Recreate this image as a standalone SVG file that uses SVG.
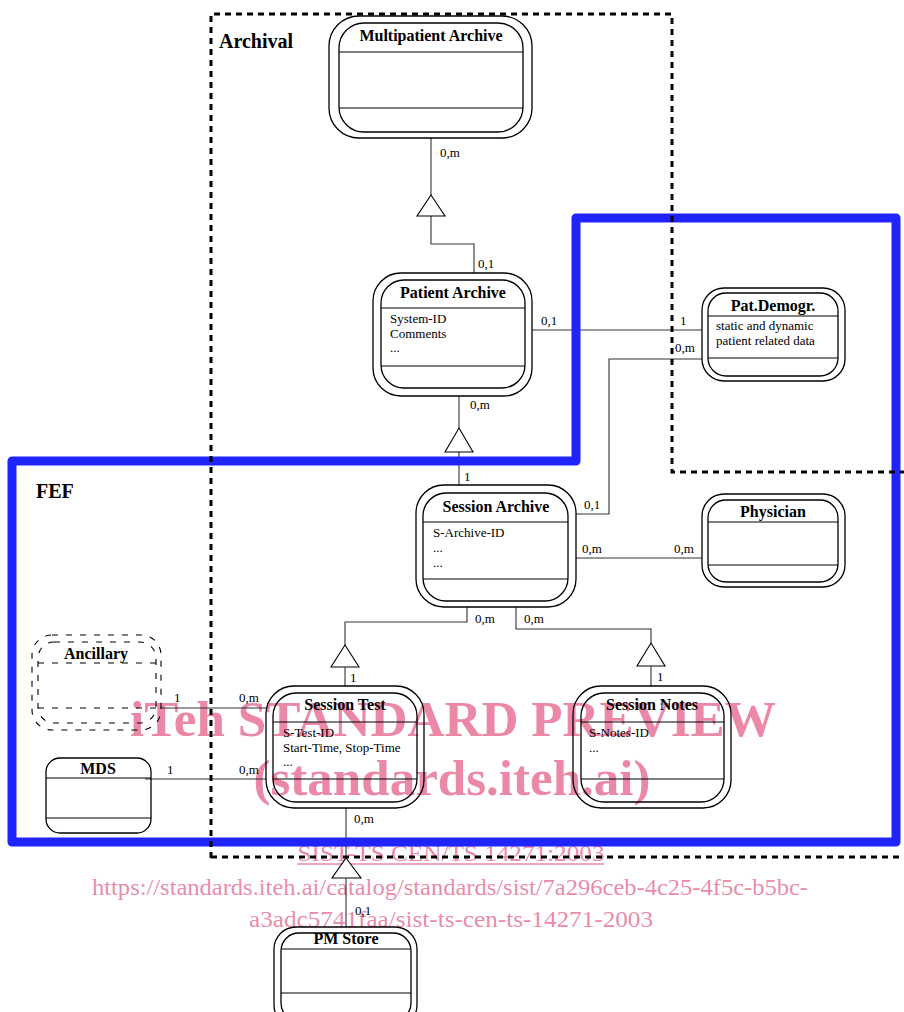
<svg xmlns="http://www.w3.org/2000/svg" width="904" height="1012" viewBox="0 0 904 1012">
<style>
.wm{font-family:"Liberation Serif","Times New Roman",serif;fill:#e2567f;fill-opacity:0.7}
.wmb{font-weight:bold}
.o{fill:none;stroke:#000;stroke-width:1.3}
.i{fill:none;stroke:#000;stroke-width:1.3}
.sep{stroke:#000;stroke-width:1.2}
.d{fill:none;stroke:#000;stroke-width:1.1;stroke-dasharray:6 8}
.t{font-family:"Liberation Serif","Times New Roman",serif;font-weight:bold;font-size:16px;text-anchor:middle;fill:#000}
.a{font-family:"Liberation Serif","Times New Roman",serif;font-size:13px;fill:#000}
.l{font-family:"Liberation Serif","Times New Roman",serif;font-size:13px;fill:#000}
.c{fill:none;stroke:#333;stroke-width:1.1}
.tri{fill:#fff;stroke:#000;stroke-width:1.1}
.big{font-family:"Liberation Serif","Times New Roman",serif;font-weight:bold;font-size:20px;fill:#000}
</style>
<rect width="904" height="1012" fill="#fff"/>

<g id="watermark">
<text class="wm wmb" x="453" y="736" font-size="50" text-anchor="middle" textLength="646" lengthAdjust="spacingAndGlyphs">iTeh STANDARD PREVIEW</text>
<text class="wm wmb" x="452" y="795" font-size="50" text-anchor="middle" textLength="397" lengthAdjust="spacingAndGlyphs">(standards.iteh.ai)</text>
<text class="wm" x="451" y="861" font-size="24" text-anchor="middle" textLength="307" lengthAdjust="spacingAndGlyphs">SIST-TS CEN/TS 14271:2003</text>
<line x1="297" y1="864" x2="604" y2="864" stroke="#e2567f" stroke-opacity="0.7" stroke-width="1.5"/>
<text class="wm" x="450" y="895" font-size="24" text-anchor="middle" textLength="716" lengthAdjust="spacingAndGlyphs">https://standards.iteh.ai/catalog/standards/sist/7a296ceb-4c25-4f5c-b5bc-</text>
<text class="wm" x="451" y="927" font-size="24" text-anchor="middle" textLength="404" lengthAdjust="spacingAndGlyphs">a3adc5741faa/sist-ts-cen-ts-14271-2003</text>
</g>

<g id="connectors">
<polyline class="c" points="431,138 431,195"/>
<polyline class="c" points="431,216 431,244 474,244 474,273"/>
<polygon class="tri" points="431,195 445,216 417,216"/>
<line class="c" x1="532" y1="330" x2="702" y2="330"/>
<polyline class="c" points="702,359 609,359 609,514 576,514"/>
<line class="c" x1="459" y1="396" x2="459" y2="428"/>
<line class="c" x1="459" y1="452" x2="459" y2="485"/>
<polygon class="tri" points="459,428 473,452 445,452"/>
<line class="c" x1="576" y1="558" x2="702" y2="558"/>
<polyline class="c" points="467,607 467,622 345,622 345,645"/>
<polygon class="tri" points="345,645 359,667 331,667"/>
<line class="c" x1="345" y1="667" x2="345" y2="686"/>
<polyline class="c" points="516,607 516,629 651,629 651,643"/>
<polygon class="tri" points="651,643 665,666 637,666"/>
<line class="c" x1="651" y1="666" x2="651" y2="686"/>
<line class="c" x1="160" y1="708" x2="266" y2="708"/>
<line class="c" x1="145" y1="779" x2="266" y2="779"/>
<line class="c" x1="346" y1="808" x2="346" y2="858"/>
<polygon class="tri" points="346,858 361,878 332,878"/>
<line class="c" x1="346" y1="878" x2="346" y2="927"/>
<text class="l" x="440" y="157">0,m</text>
<text class="l" x="478" y="268">0,1</text>
<text class="l" x="541" y="325">0,1</text>
<text class="l" x="680" y="325">1</text>
<text class="l" x="675" y="352">0,m</text>
<text class="l" x="470" y="409">0,m</text>
<text class="l" x="464" y="481">1</text>
<text class="l" x="584" y="509">0,1</text>
<text class="l" x="582" y="553">0,m</text>
<text class="l" x="674" y="553">0,m</text>
<text class="l" x="475" y="623">0,m</text>
<text class="l" x="524" y="623">0,m</text>
<text class="l" x="350" y="682">1</text>
<text class="l" x="657" y="681">1</text>
<text class="l" x="174" y="702">1</text>
<text class="l" x="239" y="702">0,m</text>
<text class="l" x="167" y="774">1</text>
<text class="l" x="239" y="774">0,m</text>
<text class="l" x="354" y="823">0,m</text>
<text class="l" x="355" y="915">0,1</text>
</g>

<g id="multipatient-archive">
<rect class="o" x="329" y="16" width="203" height="122" rx="30"/>
<rect class="i" x="339" y="23" width="184" height="109" rx="25"/>
<line class="sep" x1="339" y1="52" x2="523" y2="52"/>
<line class="sep" x1="339" y1="108" x2="523" y2="108"/>
<text class="t" x="431" y="41">Multipatient Archive</text>
</g>

<g id="patient-archive">
<rect class="o" x="373" y="273" width="159" height="123" rx="28"/>
<rect class="i" x="381" y="280" width="144" height="108" rx="23"/>
<line class="sep" x1="381" y1="308" x2="525" y2="308"/>
<line class="sep" x1="381" y1="366" x2="525" y2="366"/>
<text class="t" x="453" y="298">Patient Archive</text>
<text class="a" x="390" y="323">System-ID</text>
<text class="a" x="390" y="338">Comments</text>
<text class="a" x="390" y="352">...</text>
</g>

<g id="pat-demogr">
<rect class="o" x="702" y="288" width="143" height="93" rx="22"/>
<rect class="i" x="708" y="293" width="130" height="83" rx="18"/>
<line class="sep" x1="708" y1="316" x2="838" y2="316"/>
<line class="sep" x1="708" y1="358" x2="838" y2="358"/>
<text class="t" x="773" y="311">Pat.Demogr.</text>
<text class="a" x="716" y="330">static and dynamic</text>
<text class="a" x="716" y="345">patient related data</text>
</g>

<g id="session-archive">
<rect class="o" x="416" y="485" width="160" height="122" rx="28"/>
<rect class="i" x="423" y="493" width="145" height="108" rx="23"/>
<line class="sep" x1="423" y1="522" x2="568" y2="522"/>
<line class="sep" x1="423" y1="579" x2="568" y2="579"/>
<text class="t" x="496" y="512">Session Archive</text>
<text class="a" x="433" y="537">S-Archive-ID</text>
<text class="a" x="433" y="552">...</text>
<text class="a" x="433" y="567">...</text>
</g>

<g id="physician">
<rect class="o" x="702" y="494" width="143" height="93" rx="22"/>
<rect class="i" x="708" y="500" width="130" height="82" rx="18"/>
<line class="sep" x1="708" y1="522" x2="838" y2="522"/>
<line class="sep" x1="708" y1="565" x2="838" y2="565"/>
<text class="t" x="773" y="517">Physician</text>
</g>

<g id="session-test">
<rect class="o" x="266" y="686" width="158" height="122" rx="28"/>
<rect class="i" x="273" y="693" width="144" height="109" rx="23"/>
<line class="sep" x1="273" y1="722" x2="417" y2="722"/>
<line class="sep" x1="273" y1="779" x2="417" y2="779"/>
<text class="t" x="345" y="710">Session Test</text>
<text class="a" x="283" y="737">S-Test-ID</text>
<text class="a" x="283" y="752">Start-Time, Stop-Time</text>
<text class="a" x="283" y="766">...</text>
</g>

<g id="session-notes">
<rect class="o" x="573" y="686" width="158" height="122" rx="28"/>
<rect class="i" x="581" y="693" width="143" height="109" rx="23"/>
<line class="sep" x1="581" y1="722" x2="724" y2="722"/>
<line class="sep" x1="581" y1="779" x2="724" y2="779"/>
<text class="t" x="652" y="710">Session Notes</text>
<text class="a" x="589" y="737">S-Notes-ID</text>
<text class="a" x="589" y="752">...</text>
</g>

<g id="ancillary">
<rect class="d" x="32" y="635" width="129" height="95" rx="20"/>
<rect class="d" x="38" y="642" width="118" height="81" rx="16"/>
<line class="d" x1="38" y1="663" x2="156" y2="663"/>
<line class="d" x1="38" y1="708" x2="156" y2="708"/>
<text class="t" x="96" y="659">Ancillary</text>
</g>

<g id="mds">
<rect class="o" x="46" y="758" width="105" height="75" rx="14"/>
<line class="sep" x1="46" y1="778" x2="151" y2="778"/>
<line class="sep" x1="46" y1="818" x2="151" y2="818"/>
<text class="t" x="98" y="774">MDS</text>
</g>

<g id="pm-store">
<rect class="o" x="274" y="927" width="143" height="100" rx="22"/>
<rect class="i" x="281" y="933" width="130" height="88" rx="18"/>
<line class="sep" x1="281" y1="949" x2="411" y2="949"/>
<line class="sep" x1="281" y1="993" x2="411" y2="993"/>
<text class="t" x="346" y="944">PM Store</text>
</g>

<g id="fef-region">
<path d="M12,461 L576,461 L576,218 L896,218 L896,842 L12,842 Z" fill="none" stroke="#1f24ff" stroke-width="9" stroke-linejoin="round"/>
<text class="big" x="36" y="498">FEF</text>
</g>

<g id="archival-region">
<path d="M211,858 L211,14 L672,14 L672,472 L904,472 M211,857 L904,857" fill="none" stroke="#000" stroke-width="3" stroke-dasharray="6 5"/>
<text class="big" x="219" y="48">Archival</text>
</g>
</svg>
